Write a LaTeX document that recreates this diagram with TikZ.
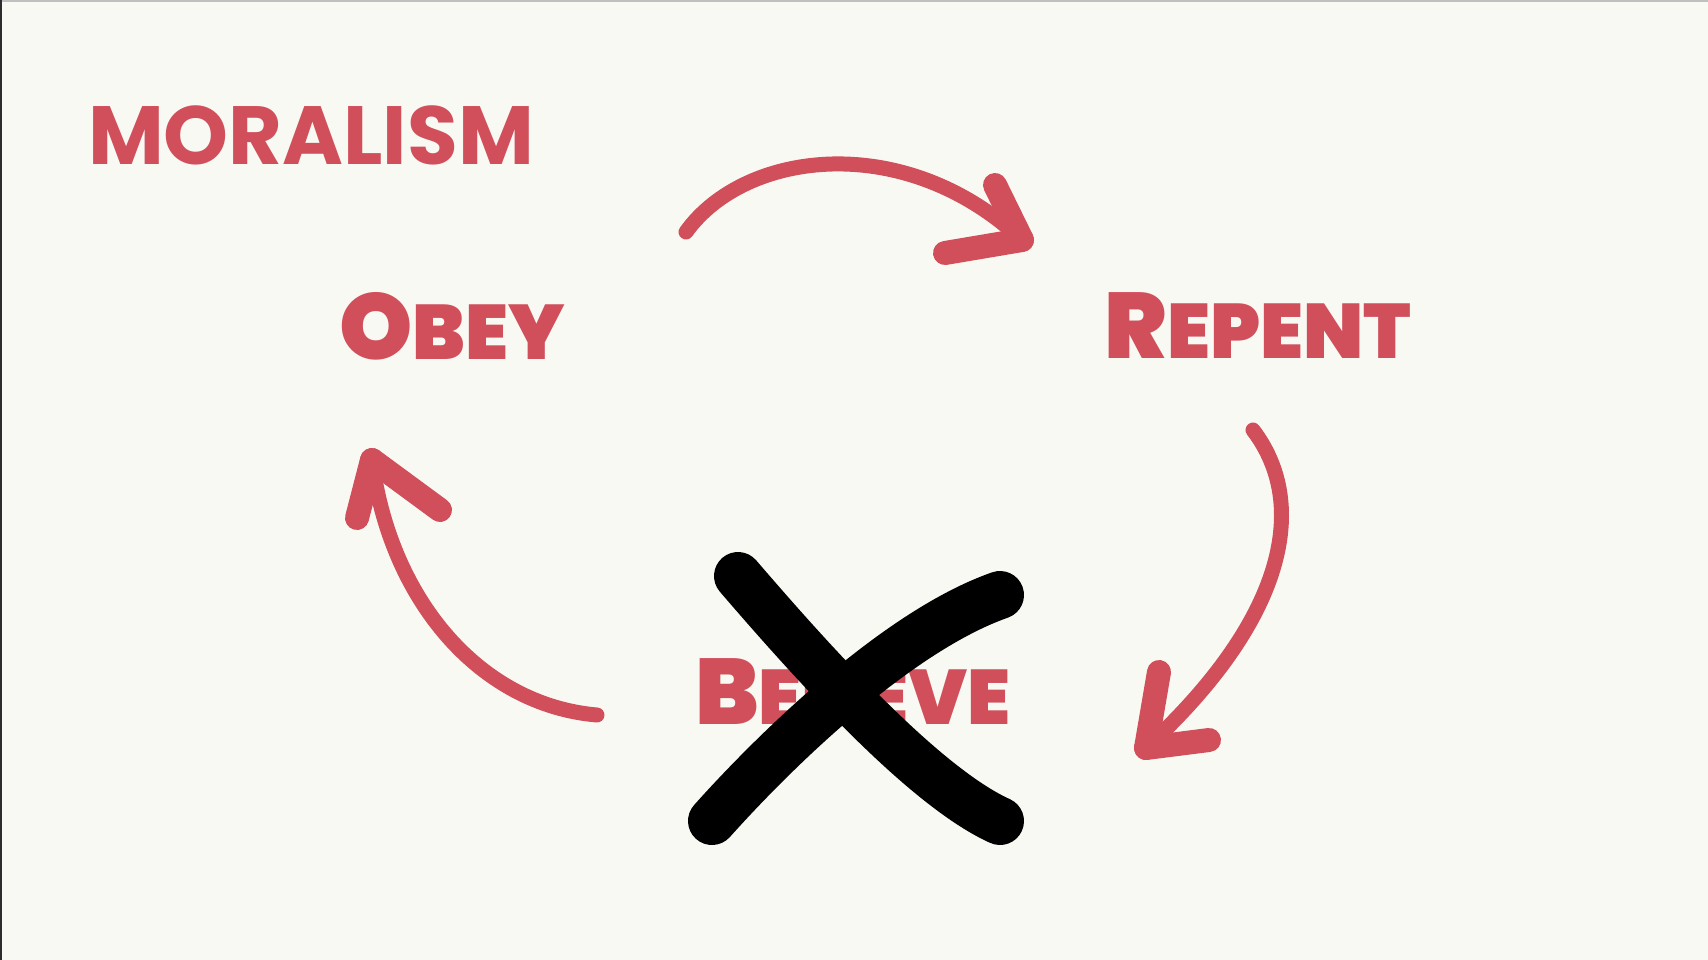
\documentclass[tikz,border=0pt]{standalone}
\usepackage{fontspec}
\setmainfont{Poppins}
\newfontfamily\heavyfont{Poppins Black}
\definecolor{paper}{RGB}{248,249,243}
\definecolor{crimson}{RGB}{209,78,91}
\definecolor{edgegray}{RGB}{192,192,192}
\definecolor{edgedark}{RGB}{45,45,45}
\newcommand\capword[2]{{\fontsize{53pt}{53pt}\selectfont #1}{\fontsize{44pt}{44pt}\selectfont #2}}
\tikzset{
  word/.style={text=crimson,font=\heavyfont,inner sep=0pt},
  heading/.style={text=crimson,font=\bfseries\fontsize{47pt}{47pt}\selectfont,inner sep=0pt},
  % hand drawn arrows
  shaft/.style={draw=crimson,line width=0.3cm,line cap=round},
  barb/.style={draw=crimson,line width=0.48cm,line cap=round},
  cross/.style={draw=black,line width=0.96cm,line cap=round},
}

\begin{document}
\begin{tikzpicture}[x=0.02cm,y=-0.02cm]
    \fill[paper] (0,0) rectangle (1708,960);
    \useasboundingbox (0,0) rectangle (1708,960);
    \fill[edgegray] (0,0) rectangle (1708,2);
    \fill[edgedark] (0,0) rectangle (2,960);

    \node[heading] (title) at (311,135) {MORALISM};
    \node[word] (obey) at (452,326) {\capword{O}{BEY}};
    \node[word] (repent) at (1258,326) {\capword{R}{EPENT}};
    \node[word] (believe) at (853,692) {\capword{B}{ELIEVE}};

    % obey -> repent
    \coordinate (a1s) at (686,232);
    \coordinate (a1t) at (1022,240);
    \coordinate (a1u) at (995,185);
    \coordinate (a1d) at (945,253);
    \draw[shaft] (a1s) .. controls (745,150) and (905,130) .. (a1t);
    \draw[barb] (a1t) -- (a1u);
    \draw[barb] (a1t) -- (a1d);

    % repent -> believe
    \coordinate (a2s) at (1253,430);
    \coordinate (a2t) at (1146,748);
    \coordinate (a2u) at (1159,672);
    \coordinate (a2d) at (1209,740);
    \draw[shaft] (a2s) .. controls (1310,505) and (1285,620) .. (a2t);
    \draw[barb] (a2t) -- (a2u);
    \draw[barb] (a2t) -- (a2d);

    % believe -> obey
    \coordinate (a3s) at (597,715);
    \coordinate (a3t) at (372,460);
    \coordinate (a3l) at (357,518);
    \coordinate (a3r) at (440,510);
    \draw[shaft] (a3s) .. controls (480,705) and (390,600) .. (a3t);
    \draw[barb] (a3t) -- (a3l);
    \draw[barb] (a3t) -- (a3r);

    % crossed out
    \coordinate (x1a) at (738,576);
    \coordinate (x1b) at (1000,821);
    \coordinate (x2a) at (712,821);
    \coordinate (x2b) at (1000,595);
    \draw[cross] (x1a) .. controls (800,648) and (920,785) .. (x1b);
    \draw[cross] (x2a) .. controls (780,745) and (900,630) .. (x2b);
\end{tikzpicture}
\end{document}
